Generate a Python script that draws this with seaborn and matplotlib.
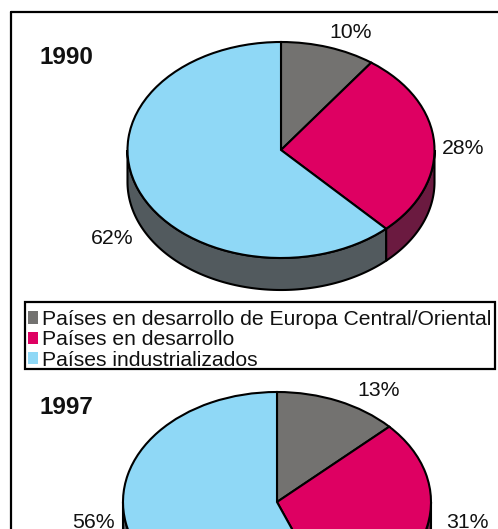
import numpy as np
import matplotlib
matplotlib.use("Agg")
import matplotlib.pyplot as plt
from matplotlib.lines import Line2D
from matplotlib.patches import Patch, Rectangle
import seaborn as sns

categories = ["Países en desarrollo de Europa Central/Oriental", "Países en desarrollo", "Países industrializados"]
values_1990 = [10, 28, 62]
values_1997 = [13, 31, 56]
top_colors = ["#737270", "#DE0062", "#8FD8F6"]
wall_colors = ["#3F3E3D", "#6B1A40", "#525A5E"]

sns.set_theme(style="white")
plt.rcParams["font.family"] = ["Liberation Sans", "DejaVu Sans"]

W, H = 498, 529
fig = plt.figure(figsize=(W / 100, H / 100), dpi=100, facecolor="white")
palette = sns.color_palette(top_colors)


def draw_pie(values, cx, cy, rx, ry, depth, year, year_xy, label_xy):
    d = depth / ry
    ax = fig.add_axes([(cx - rx - 2) / W, 1 - (cy + ry + depth + 2) / H,
                       (2 * rx + 4) / W, (2 * ry + depth + 4) / H])
    a = 90.0
    for v, wc in zip(values, wall_colors):
        b = a - v * 3.6
        lo, hi = max(b, -180), min(a, 0)
        if hi > lo:
            t = np.radians(np.linspace(lo, hi, 120))
            x = np.cos(t)
            y = np.sin(t)
            ax.fill(np.r_[x, x[::-1]], np.r_[y, y[::-1] - d], facecolor=wc,
                    edgecolor="black", linewidth=1.5, zorder=1)
        a = b
    ax.pie(values, colors=palette, startangle=90, counterclock=False, radius=1,
           wedgeprops=dict(edgecolor="black", linewidth=1.5, zorder=2))
    ax.set_aspect("auto")
    ax.set_xlim(-1 - 2 / rx, 1 + 2 / rx)
    ax.set_ylim(-1 - d - 2 / ry, 1 + 2 / ry)
    ax.axis("off")
    for v, (px, py) in zip(values, label_xy):
        fig.text(px / W, 1 - py / H, f"{v}%", fontsize=15.3, color="#111111",
                 ha="center", va="center")
    fig.text(year_xy[0] / W, 1 - year_xy[1] / H, year, fontsize=17.5,
             fontweight="bold", color="#111111", ha="center", va="center")


draw_pie(values_1990, 281, 150, 153.5, 108, 32, "1990", (66, 58),
         [(351, 33), (463, 148), (112, 239)])
draw_pie(values_1997, 277, 502, 154, 110, 32, "1997", (66, 408),
         [(379, 391), (467, 522), (93, 522)])

fig.add_artist(Line2D([11 / W, 11 / W], [0, 1 - 12 / H], color="black", linewidth=1.6))
fig.add_artist(Line2D([11 / W, 1], [1 - 12 / H, 1 - 12 / H], color="black", linewidth=1.6))

fig.add_artist(Rectangle((25 / W, 1 - 369 / H), 470 / W, 67 / H, transform=fig.transFigure,
                         facecolor="white", edgecolor="black", linewidth=1.6, zorder=3))
handles = [Patch(facecolor=c, edgecolor="none") for c in palette]
leg = fig.legend(handles, categories, loc="upper left",
                 bbox_to_anchor=(27.5 / W, 1 - 310 / H), borderaxespad=0, borderpad=0,
                 fontsize=15.2, frameon=False, labelspacing=0.06,
                 handlelength=0.48, handleheight=0.52, handletextpad=0.22,
                 labelcolor="#111111")
leg.set_zorder(4)

fig.savefig("out.png", dpi=100)
